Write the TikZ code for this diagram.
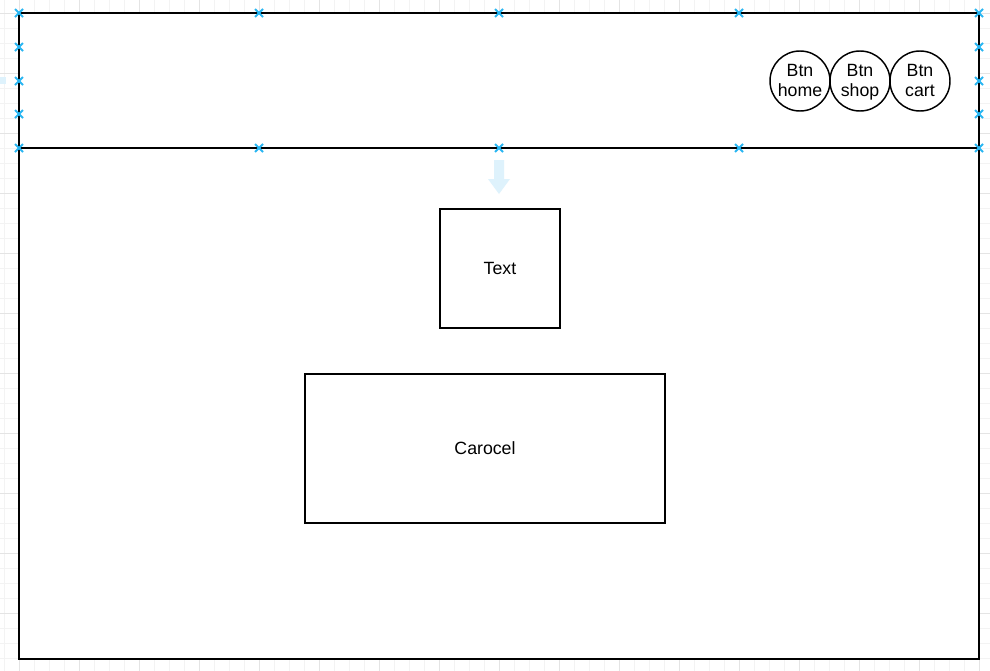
\documentclass[tikz,border=0pt]{standalone}
\usepackage{fontspec}
\setmainfont{Liberation Sans}
\definecolor{xblue}{RGB}{41,182,242}
\definecolor{lightarrow}{RGB}{222,242,252}
\definecolor{gridminor}{RGB}{243,243,243}
\definecolor{gridmajor}{RGB}{228,228,228}
\tikzset{
  box/.style={draw=black, line width=1.1pt, fill=white, font=\fontsize{13.3}{15.5}\selectfont, align=center, inner sep=0pt},
  btn/.style={draw=black, line width=1.1pt, circle, minimum size=45pt, inner sep=0pt},
  btnlabel/.style={font=\fontsize{13.3}{15.5}\selectfont, align=center, inner sep=0pt},
  xmark/.style={draw=xblue, line width=1.4pt},
}
\begin{document}
\begin{tikzpicture}[x=0.75pt,y=-0.75pt]
\useasboundingbox (0,0) rectangle (990,671);
% grid
\foreach \i in {0,...,65} {
  \pgfmathsetmacro{\gx}{4+15*\i}
  \draw[gridminor, line width=0.75pt] (\gx,0) -- (\gx,671);
}
\foreach \i in {0,...,44} {
  \pgfmathsetmacro{\gy}{13+15*\i}
  \draw[gridminor, line width=0.75pt] (0,\gy) -- (990,\gy);
}
\foreach \i in {0,...,16} {
  \pgfmathsetmacro{\gx}{19+60*\i}
  \draw[gridmajor, line width=0.75pt] (\gx,0) -- (\gx,671);
}
\foreach \i in {0,...,11} {
  \pgfmathsetmacro{\gy}{13+60*\i}
  \draw[gridmajor, line width=0.75pt] (0,\gy) -- (990,\gy);
}
% small light square at left edge
\fill[lightarrow] (0,77) rectangle (6,84);
% outer frame and header
\coordinate (tl) at (19,13);
\coordinate (br) at (979,659);
\coordinate (hl) at (19,148);
\coordinate (hr) at (979,148);
\draw[line width=1.1pt, fill=white] (tl) rectangle (br);
\draw[line width=1.1pt] (hl) -- (hr);
% buttons
\node[btn] (home) at (800,81) {};
\node[btn] (shop) at (860,81) {};
\node[btn] (cart) at (920,81) {};
\node[btnlabel] (homelbl) at (800,83.5) {Btn\\home\strut};
\node[btnlabel] (shoplbl) at (860,83.5) {Btn\\shop\strut};
\node[btnlabel] (cartlbl) at (920,83.5) {Btn\\cart\strut};
% boxes
\node[box, minimum width=90pt, minimum height=89.25pt] (text) at (500,268.5) {Text};
\node[box, minimum width=270pt, minimum height=111.75pt] (carocel) at (485,448.5) {Carocel};
% light arrow
\fill[lightarrow] (494,160) -- (504,160) -- (504,179) -- (510,179) -- (499,194) -- (488,179) -- (494,179) -- cycle;
% blue x marks
\foreach \p in {(19,13),(259,13),(499,13),(739,13),(979,13),
                (19,47),(19,81),(19,114),(979,47),(979,81),(979,114),
                (19,148),(259,148),(499,148),(739,148),(979,148)} {
  \draw[xmark] \p ++(-4,-4) -- ++(8,8);
  \draw[xmark] \p ++(-4,4) -- ++(8,-8);
}
\end{tikzpicture}
\end{document}
